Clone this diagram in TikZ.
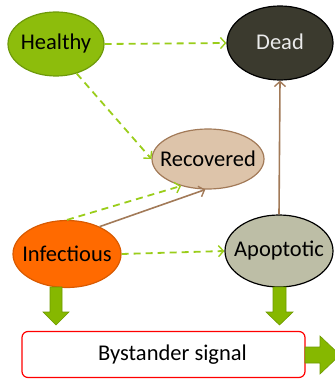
\documentclass[tikz,border=0pt]{standalone}
\usepackage{fontspec}
\setmainfont{Carlito}
\usetikzlibrary{shapes.geometric,arrows.meta}
\definecolor{hfill}{HTML}{8DBD0C}
\definecolor{hdraw}{HTML}{6E9A0A}
\definecolor{dfill}{HTML}{3B3A2E}
\definecolor{rfill}{HTML}{DDC4AA}
\definecolor{brown}{HTML}{A27A58}
\definecolor{ifill}{HTML}{FF6A00}
\definecolor{idraw}{HTML}{D95A00}
\definecolor{afill}{HTML}{BDBEA6}
\definecolor{dashgreen}{HTML}{9ACD1A}
\definecolor{blockfill}{HTML}{86B800}
\definecolor{blockdraw}{HTML}{6E9A00}
\newcommand{\zw}[1]{\makebox[0pt]{#1}}
\tikzset{
  state/.style={ellipse, inner sep=0pt, line width=1.2pt, font=\fontsize{22.5}{26}\selectfont},
  dasharrow/.style={dashgreen, line width=1.8pt, dash pattern=on 7pt off 5pt, -{Straight Barb[length=5pt,width=11pt,line width=1.4pt]}},
  brownarrow/.style={brown, line width=1.6pt, -{Straight Barb[length=5pt,width=11pt,line width=1.4pt]}},
  block/.style={fill=blockfill, draw=blockdraw, line width=0.6pt},
}
\begin{document}
\begin{tikzpicture}[x=1pt,y=-1pt]
\useasboundingbox (0,0) rectangle (334,379);
\node[state, fill=hfill, draw=hdraw, minimum width=96pt, minimum height=64pt] (healthy) at (56,44) {\zw{Healthy}};
\node[state, fill=dfill, draw=black, text=white!92!black, minimum width=106pt, minimum height=74pt] (dead) at (280,43) {\raisebox{3pt}{\zw{Dead}}};
\node[state, fill=rfill, draw=brown, minimum width=112pt, minimum height=60pt] (recovered) at (208,159) {\zw{Recovered}};
\node[state, fill=ifill, draw=idraw, minimum width=108pt, minimum height=67pt] (infectious) at (67,254) {\zw{Infectious}};
\node[state, fill=afill, draw=black, minimum width=108pt, minimum height=72pt] (apoptotic) at (279,251) {\zw{Apoptotic}};
\node[draw=red, line width=1.2pt, rounded corners=6pt, fill=white, minimum width=283pt, minimum height=46pt, inner sep=0pt, font=\fontsize{22.5}{26}\selectfont] (bystander) at (163.5,354.5) {\hspace*{18pt}\zw{Bystander signal}};

% block arrows
\path[block] (50,287) -- (62,287) -- (62,312) -- (69,312) -- (56,325) -- (43,312) -- (50,312) -- cycle;
\path[block] (273,287) -- (286,287) -- (286,312) -- (293,312) -- (279.5,325) -- (266,312) -- (273,312) -- cycle;
\path[block] (305,347) -- (320,347) -- (320,336) -- (340,355) -- (320,374) -- (320,363) -- (305,363) -- cycle;

% connectors
\draw[dasharrow] (healthy.east) -- (dead.west);
\draw[dasharrow] (healthy.-55) -- (recovered.west);
\draw[dasharrow] (infectious.north) -- (recovered.-135);
\draw[brownarrow] (infectious.40) -- (recovered.-95);
\draw[dasharrow] (infectious.east) -- (apoptotic.west);
\draw[brownarrow] (apoptotic.north) -- (dead.south);
\end{tikzpicture}
\end{document}
